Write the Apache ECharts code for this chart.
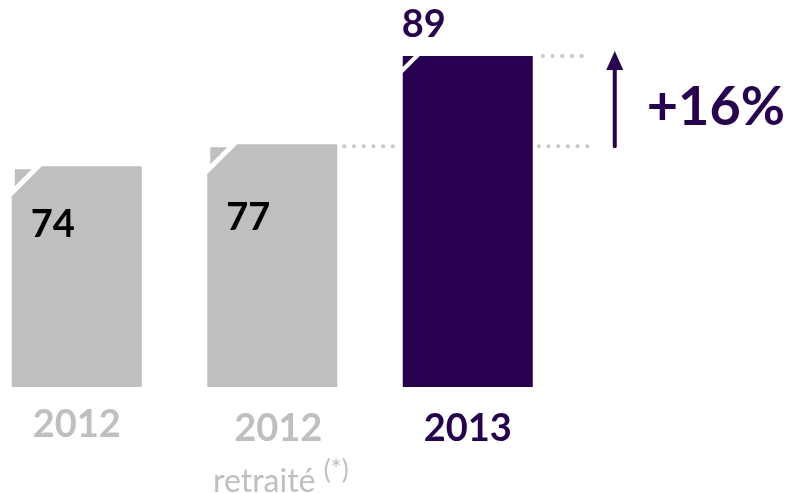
<!DOCTYPE html>
<html>
<head>
<meta charset="utf-8">
<script src="https://cdn.jsdelivr.net/npm/echarts@6/dist/echarts.min.js"></script>
<style>
  html, body { margin: 0; padding: 0; background: #ffffff; }
  #chart { width: 789px; height: 493px; }
</style>
</head>
<body>
<div id="chart"></div>
<script>
// ---- data ----
const years = ['2012', '2012', '2013'];
const subLabels = ['', 'retraité', ''];
const notes = ['', '(*)', ''];
const values = [74, 77, 89];
const compareFrom = 1; // restated 2012
const compareTo = 2;   // 2013

// ---- styles ----
const GRAY = '#bfbfbf';
const PURPLE = '#270052';
const DOT = '#c8c8c8';
const FONT = 'Lato';
const barColors = [GRAY, GRAY, PURPLE];
const valueColors = ['#000000', '#000000', PURPLE];
// label offsets relative to bar top-left (styling only)
const valueLabelOffsets = [[41, 58], [41, 73], [21, -31]];
// corner notch styling: [cut, triangle inset, triangle leg]
const notchStyle = [[30, 3, 17], [30, 3, 17], [17, 0, 11]];

const pct = Math.round((values[compareTo] / values[compareFrom] - 1) * 100);
const pctText = (pct >= 0 ? '+' : '') + pct + '%';

const chart = echarts.init(document.getElementById('chart'));

function renderItem(params, api) {
  const i = api.value(0);
  const v = api.value(1);
  const band = api.size([1, 0])[0];
  const bw = band * 0.665;
  const top = api.coord([i, v]);
  const base = api.coord([i, 44]);
  const x0 = top[0] - bw / 2;
  const x1 = x0 + bw;
  const y0 = top[1];
  const yb = base[1];
  const cut = notchStyle[i][0], ins = notchStyle[i][1], leg = notchStyle[i][2];
  const children = [
    { type: 'polygon', shape: { points: [[x0, y0 + cut], [x0 + cut, y0], [x1, y0], [x1, yb], [x0, yb]] }, style: { fill: barColors[i] } },
    { type: 'polygon', shape: { points: [[x0 + ins, y0 + ins], [x0 + ins + leg, y0 + ins], [x0 + ins, y0 + ins + leg]] }, style: { fill: barColors[i] } },
    { type: 'text', x: x0 + valueLabelOffsets[i][0], y: y0 + valueLabelOffsets[i][1],
      style: { text: String(values[i]), fill: valueColors[i], font: 'bold 38px ' + FONT, align: 'center', verticalAlign: 'middle' } }
  ];
  if (i === compareTo) {
    const pFrom = api.coord([compareFrom, values[compareFrom]]);
    const fromRight = pFrom[0] + bw / 2;
    const yLow = pFrom[1] + 2;
    const yHigh = y0;
    const dash = { stroke: DOT, lineWidth: 4, lineCap: 'round', lineDash: [0.1, 9.6] };
    children.push(
      { type: 'line', shape: { x1: fromRight + 7, y1: yLow, x2: x0 - 3, y2: yLow }, style: dash },
      { type: 'line', shape: { x1: x1 + 6, y1: yLow, x2: x1 + 64, y2: yLow }, style: dash },
      { type: 'line', shape: { x1: x1 + 10, y1: yHigh, x2: x1 + 58, y2: yHigh }, style: dash }
    );
    const ax = x1 + 82;
    const tipY = yHigh - 5;
    children.push(
      { type: 'line', shape: { x1: ax, y1: yLow, x2: ax, y2: tipY + 16 }, style: { stroke: PURPLE, lineWidth: 4, lineCap: 'round' } },
      { type: 'polygon', shape: { points: [[ax, tipY], [ax + 8.5, tipY + 19], [ax - 8.5, tipY + 19]] }, style: { fill: PURPLE } },
      { type: 'text', x: ax + 32, y: (yLow + yHigh) / 2 + 6,
        style: { text: pctText, fill: PURPLE, font: 'bold 54px ' + FONT, align: 'left', verticalAlign: 'middle' } }
    );
  }
  return { type: 'group', children: children };
}

chart.setOption({
  animation: false,
  backgroundColor: '#ffffff',
  grid: { left: -21, right: 28, top: 56, bottom: 106, containLabel: false, outerBoundsMode: 'none' },
  xAxis: {
    type: 'category',
    data: years.map((y, i) => y + (subLabels[i] ? ' ' + subLabels[i] : '')).concat(['']),
    axisLine: { show: false },
    axisTick: { show: false },
    axisLabel: {
      interval: 0,
      margin: 16,
      formatter: function (val, idx) {
        if (idx >= years.length) return '';
        if (idx === 0) return '{a|' + years[idx] + '}';
        if (subLabels[idx]) return '{b|' + years[idx] + '}\n{r|' + subLabels[idx] + ' }{s|' + notes[idx] + '}';
        return '{c|' + years[idx] + '}';
      },
      rich: {
        a: { fontFamily: FONT, fontWeight: 'bold', fontSize: 38, lineHeight: 44, color: GRAY },
        b: { fontFamily: FONT, fontWeight: 'bold', fontSize: 38, lineHeight: 52, color: GRAY, padding: [0, 0, 0, 12] },
        c: { fontFamily: FONT, fontWeight: 'bold', fontSize: 38, lineHeight: 52, color: PURPLE },
        r: { fontFamily: FONT, fontSize: 32, lineHeight: 54, color: GRAY, padding: [0, 0, 0, 17] },
        s: { fontFamily: FONT, fontSize: 26, lineHeight: 26, color: GRAY, verticalAlign: 'top', padding: [3, 0, 0, 0] }
      }
    }
  },
  yAxis: { type: 'value', min: 44, max: 89, show: false, splitLine: { show: false } },
  series: [{
    type: 'custom',
    renderItem: renderItem,
    data: values.map((v, i) => [i, v]),
    clip: false
  }]
});
</script>
</body>
</html>
